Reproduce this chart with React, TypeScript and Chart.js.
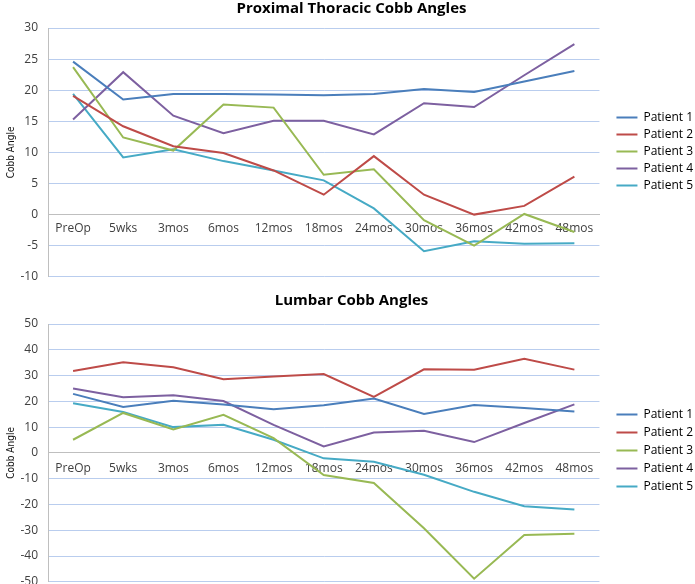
import React, { useEffect, useRef } from "react";
import { Chart, registerables } from "chart.js";
Chart.register(...registerables);

const categories = ["PreOp", "5wks", "3mos", "6mos", "12mos", "18mos", "24mos", "30mos", "36mos", "42mos", "48mos"];
const seriesNames = ["Patient 1", "Patient 2", "Patient 3", "Patient 4", "Patient 5"];
const seriesColors = ["#4A7EBB", "#BE4B48", "#98B954", "#7D60A0", "#46AAC5"];

const thoracicP1 = [24.6, 18.5, 19.4, 19.4, 19.3, 19.2, 19.4, 20.2, 19.7, 21.4, 23.1];
const thoracicP2 = [19.1, 14.2, 11.0, 9.9, 7.1, 3.2, 9.4, 3.2, 0.0, 1.4, 6.1];
const thoracicP3 = [23.7, 12.4, 10.3, 17.7, 17.2, 6.4, 7.3, -0.9, -5.0, 0.1, -2.8];
const thoracicP4 = [15.3, 22.9, 15.9, 13.1, 15.1, 15.1, 12.9, 17.9, 17.3, 22.4, 27.4];
const thoracicP5 = [19.4, 9.2, 10.5, 8.6, 7.1, 5.5, 1.0, -5.9, -4.3, -4.7, -4.6];

const lumbarP1 = [22.9, 17.8, 20.2, 18.8, 16.9, 18.5, 21.1, 15.1, 18.6, 17.4, 16.1];
const lumbarP2 = [31.8, 35.2, 33.2, 28.6, 29.6, 30.6, 21.7, 32.4, 32.3, 36.5, 32.3];
const lumbarP3 = [5.1, 15.5, 9.1, 14.8, 5.7, -8.6, -11.7, -29.2, -48.8, -31.8, -31.4];
const lumbarP4 = [25.0, 21.6, 22.4, 20.1, 10.9, 2.5, 7.9, 8.6, 4.2, 11.6, 18.8];
const lumbarP5 = [19.3, 15.9, 10.0, 10.9, 5.1, -2.1, -3.4, -8.5, -15.1, -20.7, -22.0];

const thoracicTitle = "Proximal Thoracic Cobb Angles";
const lumbarTitle = "Lumbar Cobb Angles";
const yTitle = "Cobb Angle";

const GRID = "#B9CDEE";
const AXIS = "#BFBFBF";
const TEXT = "#404040";

function makeConfig(
  title: string,
  series: number[][],
  min: number,
  max: number,
  step: number,
  pad: any,
  titleGap: number,
  legendShift: number,
  legendPad: number,
  gapWidth: number,
  xPad: number
) {
  return {
    type: "line" as const,
    data: {
      labels: categories,
      datasets: series.map((d, i) => ({
        label: seriesNames[i],
        data: d,
        borderColor: seriesColors[i],
        backgroundColor: seriesColors[i],
        borderWidth: 2,
        pointRadius: 0,
        pointStyle: "line",
        tension: 0,
        fill: false,
      })),
    },
    options: {
      animation: false as const,
      responsive: false,
      devicePixelRatio: 1,
      layout: { padding: pad },
      plugins: {
        title: {
          display: true,
          text: title,
          color: "#000",
          font: { family: "'Open Sans'", size: 15, weight: "bold" as const, lineHeight: 1 },
          padding: { top: 0, bottom: titleGap },
        },
        legend: {
          position: "right" as const,
          title: { display: true, text: "", font: { size: 10, lineHeight: 1 }, padding: { top: 0, bottom: legendShift } },
          labels: {
            usePointStyle: true,
            pointStyleWidth: 21,
            padding: legendPad,
            color: "#000",
            font: { family: "'Open Sans'", size: 12 },
          },
        },
        tooltip: { enabled: false },
      },
      scales: {
        x: {
          type: "category" as const,
          position: { y: 0 },
          offset: true,
          grid: { display: false, drawTicks: false },
          border: { display: true, color: AXIS, width: 1 },
          ticks: { color: TEXT, font: { family: "'Open Sans'", size: 12 }, padding: xPad, maxRotation: 0, autoSkip: false },
        },
        y: {
          type: "linear" as const,
          min,
          max,
          afterFit: (s: any) => { s.width = 48; },
          ticks: { stepSize: step, color: TEXT, font: { family: "'Open Sans'", size: 12 }, padding: 10 },
          grid: { color: GRID, lineWidth: 1, drawTicks: false },
          border: { display: true, color: AXIS, width: 1 },
          title: {
            display: true,
            text: yTitle,
            color: "#111",
            font: { family: "'Liberation Sans Narrow', 'DejaVu Sans Condensed'", size: 10 },
            padding: { top: 5, bottom: 0 },
          },
        },
        gap: {
          type: "linear" as const,
          position: "right" as const,
          display: true,
          afterFit: (s: any) => { s.width = gapWidth; },
          ticks: { display: false },
          grid: { display: false, drawTicks: false },
          border: { display: false },
        },
      },
    },
  };
}

function LineChart({ config, width, height, top }: { config: any; width: number; height: number; top: number }) {
  const ref = useRef<HTMLCanvasElement>(null);
  useEffect(() => {
    if (!ref.current) return;
    const chart = new Chart(ref.current, config);
    return () => chart.destroy();
  }, [config]);
  return (
    <canvas
      ref={ref}
      width={width}
      height={height}
      style={{ position: "absolute", left: 0, top, width, height }}
    />
  );
}

const topConfig = makeConfig(
  thoracicTitle,
  [thoracicP1, thoracicP2, thoracicP3, thoracicP4, thoracicP5],
  -10, 30, 5,
  { left: 0, right: -8, top: 1, bottom: 9 },
  12, 7, 5, 12, 7
);
const bottomConfig = makeConfig(
  lumbarTitle,
  [lumbarP1, lumbarP2, lumbarP3, lumbarP4, lumbarP5],
  -50, 50, 10,
  { left: 0, right: -8, top: 3, bottom: 4 },
  16, 3, 6, 11, 8
);

export default function App() {
  return (
    <div style={{ position: "absolute", left: 0, top: 0, width: 695, height: 584, overflow: "hidden", background: "#fff" }}>
      <LineChart config={topConfig} width={695} height={294} top={0} />
      <LineChart config={bottomConfig} width={695} height={309} top={290} />
    </div>
  );
}
